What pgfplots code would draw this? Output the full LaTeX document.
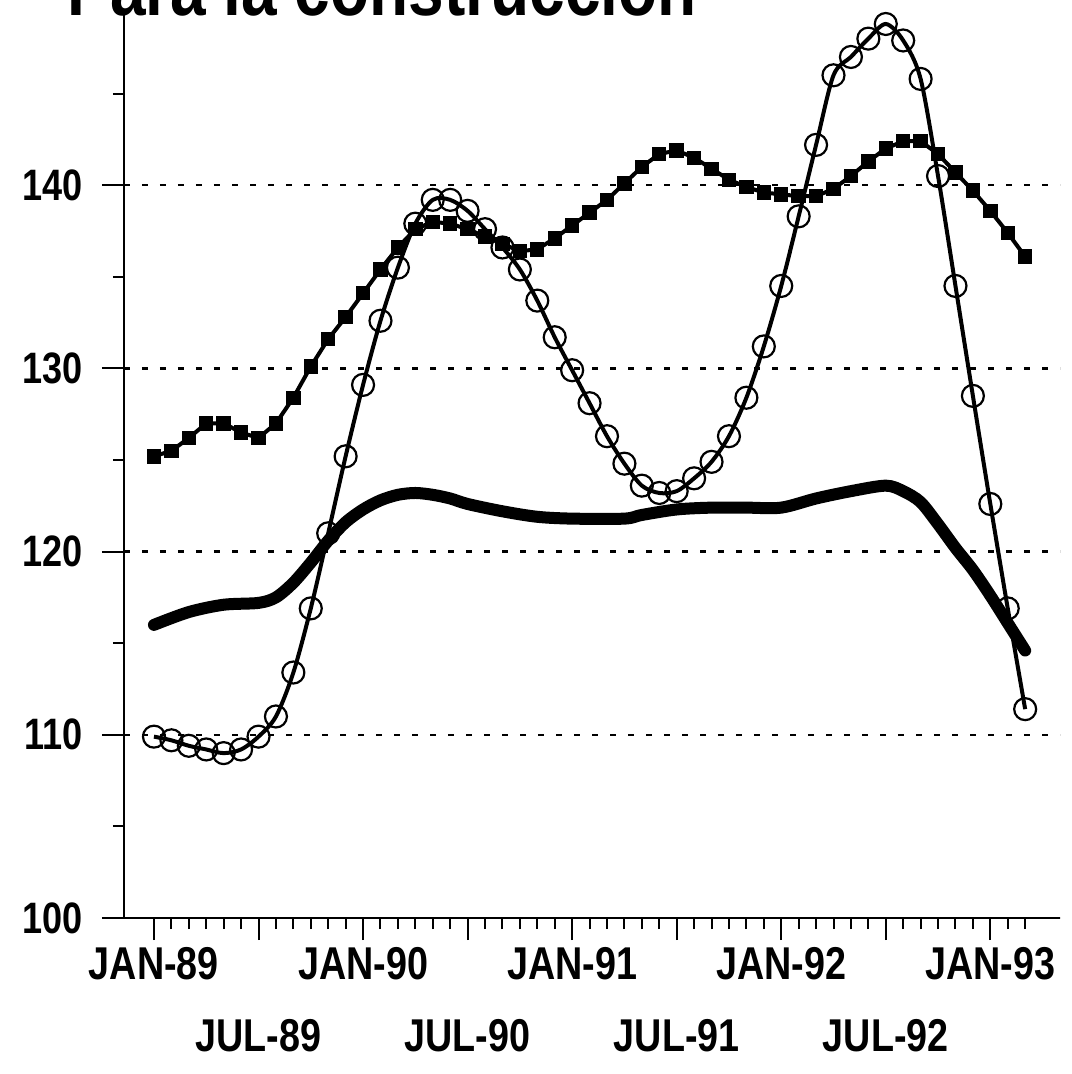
\documentclass[border=0pt]{standalone}
\usepackage{fontspec}
\setmainfont[FakeStretch=0.82]{Liberation Sans}
\usepackage{pgfplots}
\usepackage{pgfplotstable}
\pgfplotsset{compat=1.18}

\pgfplotstableread{
m v
0 125.2
1 125.5
2 126.2
3 127.0
4 127.0
5 126.5
6 126.2
7 127.0
8 128.4
9 130.1
10 131.6
11 132.8
12 134.1
13 135.4
14 136.6
15 137.6
16 138.0
17 137.9
18 137.6
19 137.2
20 136.8
21 136.4
22 136.5
23 137.1
24 137.8
25 138.5
26 139.2
27 140.1
28 141.0
29 141.7
30 141.9
31 141.5
32 140.9
33 140.3
34 139.9
35 139.6
36 139.5
37 139.4
38 139.4
39 139.8
40 140.5
41 141.3
42 142.0
43 142.4
44 142.4
45 141.7
46 140.7
47 139.7
48 138.6
49 137.4
50 136.1
}\squares

\pgfplotstableread{
m v
0 109.9
1 109.7
2 109.4
3 109.2
4 109.0
5 109.2
6 109.9
7 111.0
8 113.4
9 116.9
10 121.0
11 125.2
12 129.1
13 132.6
14 135.5
15 137.9
16 139.2
17 139.2
18 138.6
19 137.6
20 136.6
21 135.4
22 133.7
23 131.7
24 129.9
25 128.1
26 126.3
27 124.8
28 123.6
29 123.2
30 123.3
31 124.0
32 124.9
33 126.3
34 128.4
35 131.2
36 134.5
37 138.3
38 142.2
39 146.0
40 147.0
41 148.0
42 148.8
43 147.9
44 145.8
45 140.5
46 134.5
47 128.5
48 122.6
49 116.9
50 111.4
}\circles

\pgfplotstableread{
m v
0 116.0
2 116.7
4 117.1
6 117.2
7 117.5
8 118.3
9 119.4
10 120.6
11 121.6
12 122.3
13 122.8
14 123.1
15 123.2
16 123.1
17 122.9
18 122.6
20 122.2
22 121.9
24 121.8
27 121.8
28 122.0
30 122.3
32 122.4
34 122.4
36 122.4
38 122.9
40 123.3
42 123.6
43 123.3
44 122.7
45 121.5
46 120.2
47 119.0
48 117.6
49 116.1
50 114.6
}\thick

\begin{document}
\begin{tikzpicture}
\begin{axis}[name=ax, scale only axis, width=468pt, height=452.5pt,
  xmin=-1.72, xmax=52, ymin=100, ymax=149.4,
  axis lines=left, axis line style={line width=1.3pt, -},
  xtick={0,12,24,36,48}, xticklabels={JAN-89,JAN-90,JAN-91,JAN-92,JAN-93},
  extra x ticks={6,18,30,42}, extra x tick labels={JUL-89,JUL-90,JUL-91,JUL-92},
  extra x tick style={tick label style={yshift=-36pt}},
  minor xtick={0,...,50},
  ytick={100,110,120,130,140}, minor ytick={105,115,125,135,145},
  tick align=outside, major tick length=11pt, minor tick length=5.5pt,
  tick style={black, line width=1pt},
  ymajorgrids, grid style={dash pattern=on 3pt off 6pt, line width=1.2pt, black},
  /pgf/number format/assume math mode=true,
  ticklabel style={font=\bfseries\fontsize{22}{22}\selectfont},
  xticklabel style={font=\bfseries\fontsize{23}{23}\selectfont},
  yticklabel style={xshift=-6pt},
  clip=false,
]
\addplot[black, line width=6pt, smooth, line cap=round, line join=round] table[x=m, y=v] {\thick};
\addplot[black, line width=2pt, mark=square*, mark size=2.6pt, mark options={solid}] table[x=m, y=v] {\squares};
\addplot[black, line width=2pt, smooth, mark=o, mark size=5.5pt, mark options={solid, line width=1.1pt}] table[x=m, y=v] {\circles};
\end{axis}
\node[anchor=base east, font=\bfseries\fontsize{39}{39}\selectfont, inner sep=0pt] at ([xshift=286.5pt, yshift=-1.5pt]ax.north west) {Para la construcción};
\pgfresetboundingbox
\path[use as bounding box] ([xshift=-62pt,yshift=-78pt]ax.south west) rectangle ([xshift=5.5pt,yshift=6.5pt]ax.north east);
\end{tikzpicture}
\end{document}
